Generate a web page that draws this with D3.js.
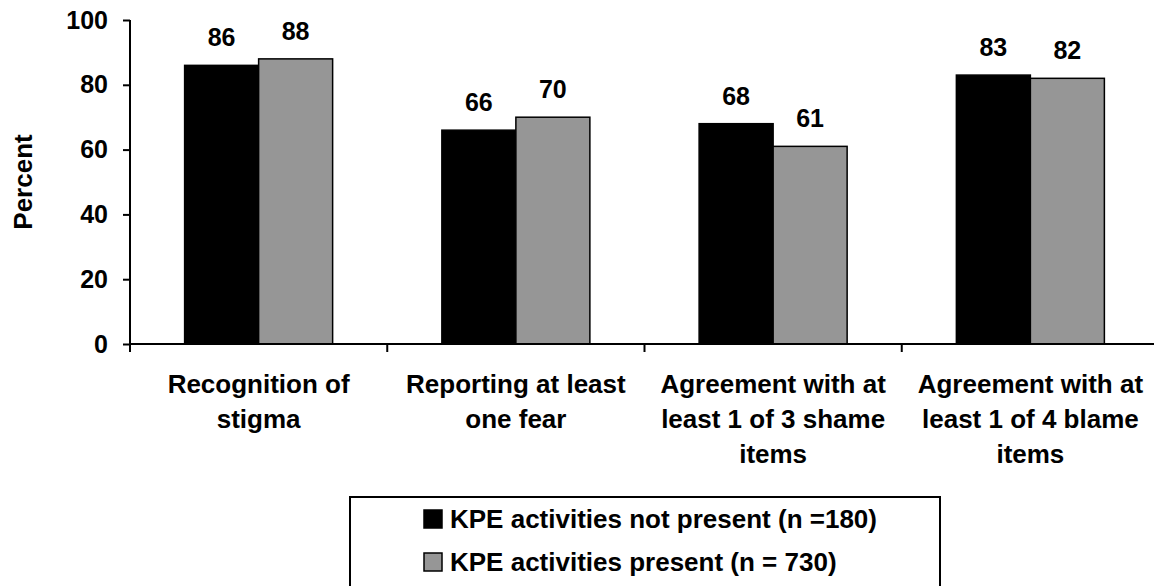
<!DOCTYPE html>
<html>
<head>
<meta charset="utf-8">
<style>
body { margin: 0; background: #fff; }
text {
  font-family: "Liberation Sans", Arial, sans-serif;
  font-weight: bold;
  fill: #000;
}
</style>
</head>
<body>
<svg width="1154" height="586"></svg>
<script src="https://cdn.jsdelivr.net/npm/d3@7"></script>
<script>
var categories = [
  ["Recognition of", "stigma"],
  ["Reporting at least", "one fear"],
  ["Agreement with at", "least 1 of 3 shame", "items"],
  ["Agreement with at", "least 1 of 4 blame", "items"]
];
var seriesNames = ["KPE activities not present (n =180)", "KPE activities present (n = 730)"];
var notPresent = [86, 66, 68, 83];
var present = [88, 70, 61, 82];
var yTicks = [0, 20, 40, 60, 80, 100];
var colors = ["#000000", "#969696"];

var svg = d3.select("svg");
var numSize = 25,   // numbers (ticks, bar values)
    wordSize = 26;  // category labels, legend, axis title

var x0 = d3.scaleBand()
    .domain(d3.range(categories.length))
    .range([130, 1159]);
var x1 = d3.scaleBand()
    .domain([0, 1])
    .range([0, x0.bandwidth()])
    .paddingInner(0)
    .paddingOuter(0.738);
var y = d3.scaleLinear()
    .domain([0, 100])
    .range([344, 20]);

var rows = categories.map(function(c, i) {
  return {i: i, values: [notPresent[i], present[i]]};
});

// bars
var groups = svg.selectAll(".group")
  .data(rows)
  .enter().append("g")
    .attr("class", "group")
    .attr("transform", function(d) { return "translate(" + x0(d.i) + ",0)"; });

groups.selectAll("rect")
  .data(function(d) { return d.values.map(function(v, k) { return {k: k, v: v}; }); })
  .enter().append("rect")
    .attr("x", function(d) { return x1(d.k); })
    .attr("y", function(d) { return y(d.v); })
    .attr("width", x1.bandwidth())
    .attr("height", function(d) { return y(0) - y(d.v); })
    .attr("fill", function(d) { return colors[d.k]; })
    .attr("stroke", "#000")
    .attr("stroke-width", 1.5);

groups.selectAll(".val")
  .data(function(d) { return d.values.map(function(v, k) { return {k: k, v: v}; }); })
  .enter().append("text")
    .attr("class", "val")
    .attr("x", function(d) { return x1(d.k) + x1.bandwidth() / 2; })
    .attr("y", function(d) { return y(d.v) - 19; })
    .attr("text-anchor", "middle")
    .style("font-size", numSize + "px")
    .text(function(d) { return d.v; });

// y axis
var yAxis = svg.append("g")
    .attr("transform", "translate(130,0)")
    .call(d3.axisLeft(y).tickValues(yTicks).tickSize(7).tickPadding(15));
yAxis.select(".domain").remove();
yAxis.append("line")
    .attr("x1", 0).attr("x2", 0)
    .attr("y1", y(100)).attr("y2", y(0) + 8)
    .attr("stroke", "#000").attr("stroke-width", 2);
yAxis.selectAll(".tick line").attr("stroke", "#000").attr("stroke-width", 2);
yAxis.selectAll(".tick text")
    .attr("font-family", null)
    .attr("font-size", null)
    .style("font-size", numSize + "px");

// x axis
var xAxis = svg.append("g");
xAxis.append("line")
    .attr("x1", 130).attr("x2", 1154)
    .attr("y1", y(0)).attr("y2", y(0))
    .attr("stroke", "#000").attr("stroke-width", 2);
xAxis.selectAll(".xtick")
  .data(d3.range(1, categories.length))
  .enter().append("line")
    .attr("x1", function(d) { return x0(d); })
    .attr("x2", function(d) { return x0(d); })
    .attr("y1", y(0)).attr("y2", y(0) + 8)
    .attr("stroke", "#000").attr("stroke-width", 2);

xAxis.selectAll(".xlabel")
  .data(categories)
  .enter().append("text")
    .attr("text-anchor", "middle")
    .style("font-size", wordSize + "px")
    .each(function(lines, i) {
      var t = d3.select(this);
      lines.forEach(function(line, j) {
        t.append("tspan")
          .attr("x", x0(i) + x0.bandwidth() / 2)
          .attr("y", 393 + j * 35)
          .text(line);
      });
    });

// y label
svg.append("text")
    .attr("transform", "translate(32,182) rotate(-90)")
    .attr("text-anchor", "middle")
    .style("font-size", wordSize + "px")
    .text("Percent");

// legend
var legend = svg.append("g");
legend.append("rect")
    .attr("x", 350).attr("y", 497)
    .attr("width", 590).attr("height", 120)
    .attr("fill", "#fff")
    .attr("stroke", "#000").attr("stroke-width", 2);
var item = legend.selectAll(".item")
  .data(seriesNames)
  .enter().append("g")
    .attr("transform", function(d, i) { return "translate(424," + (510 + i * 43) + ")"; });
item.append("rect")
    .attr("width", 18).attr("height", 18)
    .attr("fill", function(d, i) { return colors[i]; })
    .attr("stroke", "#000").attr("stroke-width", 1.5);
item.append("text")
    .attr("x", 26).attr("y", 18)
    .style("font-size", wordSize + "px")
    .text(function(d) { return d; });
</script>
</body>
</html>
